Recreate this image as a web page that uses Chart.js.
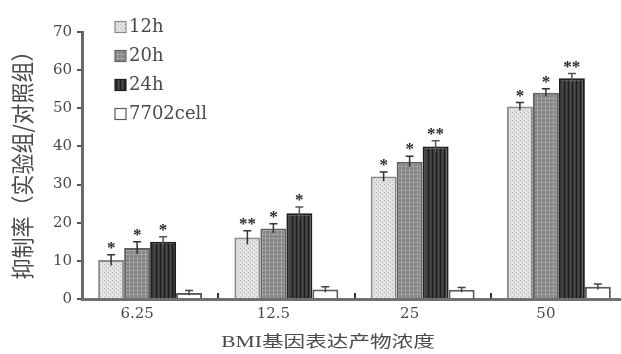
<!DOCTYPE html>
<html>
<head>
<meta charset="utf-8">
<script src="https://cdn.jsdelivr.net/npm/chart.js@4.4.1/dist/chart.umd.min.js"></script>
<style>
  html, body { margin: 0; padding: 0; background: #fff; overflow: hidden; }
  canvas { display: block; }
</style>
</head>
<body>
<canvas id="c" width="627" height="354"></canvas>
<script>
// Concentration groups and series
const concentrations = ['6.25', '12.5', '25', '50'];
const seriesNames = ['12h', '20h', '24h', '7702cell'];

// Inhibition rate (%) per group
const rate12h = [10.2, 16.1, 32.1, 50.5];
const rate20h = [13.4, 18.5, 36.0, 54.1];
const rate24h = [15.0, 22.5, 40.0, 57.9];
const rate7702 = [1.6, 2.5, 2.4, 3.2];

// Standard errors
const err12h = [1.4, 1.8, 1.2, 1.0];
const err20h = [1.6, 1.2, 1.4, 1.0];
const err24h = [1.3, 1.6, 1.5, 1.2];
const err7702 = [0.6, 0.7, 0.6, 0.7];

// Significance markers
const sig12h = ['*', '**', '*', '*'];
const sig20h = ['*', '*', '*', '*'];
const sig24h = ['*', '*', '**', '**'];
const sig7702 = ['', '', '', ''];

const yTicks = [0, 10, 20, 30, 40, 50, 60, 70];
const yTitle = '抑制率（实验组/对照组）';
const xTitle = 'BMI基因表达产物浓度';

const canvas = document.getElementById('c');
const ctx = canvas.getContext('2d');

// Small repeating fills for the hatched bars
function texture(base, draw) {
  const t = document.createElement('canvas');
  t.width = 4; t.height = 4;
  const g = t.getContext('2d');
  g.fillStyle = base;
  g.fillRect(0, 0, 4, 4);
  draw(g);
  return ctx.createPattern(t, 'repeat');
}
const fill12h = texture('#e2e2e2', g => {
  g.fillStyle = '#b4b4b4';
  g.fillRect(0, 0, 1, 1); g.fillRect(2, 2, 1, 1);
});
const fill20h = texture('#858585', g => {
  g.fillStyle = '#a2a2a2';
  g.fillRect(1, 0, 1, 4); g.fillRect(0, 2, 4, 1);
});
const fill24h = texture('#3a3a3a', g => {
  g.fillStyle = '#1c1c1c';
  g.fillRect(0, 0, 1, 4);
  g.fillStyle = '#575757';
  g.fillRect(2, 1, 1, 1); g.fillRect(2, 3, 1, 1);
});

// Error bars and significance stars above each bar
const errorMarks = {
  id: 'errorMarks',
  afterDatasetsDraw(chart) {
    const c = chart.ctx, y = chart.scales.y;
    chart.data.datasets.forEach((ds, i) => {
      chart.getDatasetMeta(i).data.forEach((bar, j) => {
        const v = ds.data[j], e = ds.errors[j];
        const top = y.getPixelForValue(v + e);
        const low = y.getPixelForValue(v - e);
        c.save();
        c.strokeStyle = ds.errColor;
        c.lineWidth = 1.5;
        c.beginPath();
        c.moveTo(bar.x, low); c.lineTo(bar.x, top);
        c.moveTo(bar.x - 4, top); c.lineTo(bar.x + 4, top);
        c.stroke();
        if (ds.sig[j]) {
          c.fillStyle = '#2a2a2a';
          c.font = 'bold 17px "Liberation Serif"';
          c.textAlign = 'center';
          c.textBaseline = 'alphabetic';
          c.fillText(ds.sig[j], bar.x, top - 2);
        }
        c.restore();
      });
    });
  }
};

// Legend block and axis titles
const decorations = {
  id: 'decorations',
  afterDraw(chart) {
    const c = chart.ctx;
    c.save();
    chart.data.datasets.forEach((ds, i) => {
      const cy = 27 + i * 29;
      c.fillStyle = ds.backgroundColor;
      c.fillRect(115, cy - 5.5, 11, 11);
      c.strokeStyle = ds.borderColor;
      c.lineWidth = 1.2;
      c.strokeRect(115, cy - 5.5, 11, 11);
      c.fillStyle = '#4a4a4a';
      c.font = '18px "DejaVu Serif"';
      c.textAlign = 'left';
      c.textBaseline = 'middle';
      c.fillText(ds.label, 129, cy);
    });

    c.fillStyle = '#4a4a4a';
    c.textAlign = 'center';
    c.textBaseline = 'middle';

    c.save();
    c.translate(328, 343);
    c.scale(1.35, 1);
    c.font = '16px "Liberation Serif", "Noto Sans CJK SC"';
    c.fillText(xTitle, 0, 0);
    c.restore();

    c.save();
    c.translate(22, 160);
    c.scale(1.1, 1);
    c.rotate(-Math.PI / 2);
    c.font = '21px "Noto Sans CJK SC"';
    c.fillText(yTitle, 0, 0);
    c.restore();

    c.restore();
  }
};

const tickFont = { family: 'DejaVu Serif', size: 15 };

new Chart(ctx, {
  type: 'bar',
  data: {
    labels: concentrations,
    datasets: [
      { label: seriesNames[0], data: rate12h, errors: err12h, sig: sig12h,
        backgroundColor: fill12h, borderColor: '#8a8a8a', borderWidth: 2, errColor: '#333' },
      { label: seriesNames[1], data: rate20h, errors: err20h, sig: sig20h,
        backgroundColor: fill20h, borderColor: '#606060', borderWidth: 2, errColor: '#333' },
      { label: seriesNames[2], data: rate24h, errors: err24h, sig: sig24h,
        backgroundColor: fill24h, borderColor: '#1e1e1e', borderWidth: 2, errColor: '#555' },
      { label: seriesNames[3], data: rate7702, errors: err7702, sig: sig7702,
        backgroundColor: '#ffffff', borderColor: '#5a5a5a', borderWidth: 2, errColor: '#444' }
    ]
  },
  options: {
    responsive: false,
    animation: false,
    layout: { padding: { top: 32, right: 0, bottom: 0, left: 0 } },
    datasets: { bar: { categoryPercentage: 0.763, barPercentage: 1 } },
    plugins: { legend: { display: false }, tooltip: { enabled: false } },
    scales: {
      x: {
        grid: { offset: true, drawOnChartArea: false, tickLength: -6, color: '#333', lineWidth: 2 },
        border: { color: '#707070', width: 3 },
        ticks: { font: tickFont, color: '#4a4a4a', padding: 12, labelOffset: -13, maxRotation: 0, autoSkip: false },
        afterFit(s) { s.height = 55; }
      },
      y: {
        min: 0, max: 70,
        afterBuildTicks(s) { s.ticks = yTicks.map(v => ({ value: v })); },
        grid: { drawOnChartArea: false, tickLength: 5, color: '#555', lineWidth: 2 },
        border: { color: '#6a6a6a', width: 3 },
        ticks: { font: tickFont, color: '#4a4a4a', padding: 5 },
        afterFit(s) { s.width = 82; }
      }
    }
  },
  plugins: [errorMarks, decorations]
});
</script>
</body>
</html>
